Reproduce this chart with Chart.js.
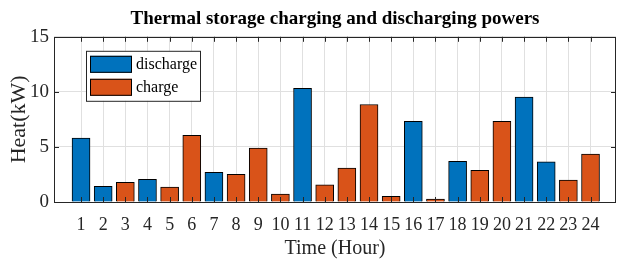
<!DOCTYPE html>
<html>
<head>
<meta charset="utf-8">
<script src="https://cdn.jsdelivr.net/npm/chart.js@4/dist/chart.umd.min.js"></script>
<style>
html,body{margin:0;padding:0;background:#fff;}
#wrap{width:617px;height:260px;}
</style>
</head>
<body>
<div id="wrap"><canvas id="c" width="617" height="260"></canvas></div>
<script>
const hours = [1,2,3,4,5,6,7,8,9,10,11,12,13,14,15,16,17,18,19,20,21,22,23,24];
const discharge = [5.8,1.43,null,2.05,null,null,2.7,null,null,null,10.33,null,null,null,null,7.33,null,3.7,null,null,9.52,3.64,null,null];
const charge = [null,null,1.78,null,1.35,6.05,null,2.52,4.9,0.73,null,1.55,3.09,8.85,0.52,null,0.27,null,2.88,7.33,null,null,2.0,4.36];
const yTicks = [0,5,10,15];
const seriesNames = ['discharge','charge'];

const BLUE = '#0072BD', ORANGE = '#D95319', AXC = '#262626';
const serif = '"Liberation Serif", "Times New Roman", serif';

const framePlugin = {
  id: 'frame',
  afterLayout(chart) {
    const tb = chart.titleBlock, a = chart.chartArea;
    if (tb) { tb.left = a.left; tb.right = a.right; tb.width = a.right - a.left; }
  },
  afterDraw(chart) {
    const {ctx, chartArea: a, scales} = chart;
    ctx.save();
    ctx.strokeStyle = AXC;
    ctx.lineWidth = 1;
    // inward ticks
    ctx.beginPath();
    hours.forEach(h => {
      const px = Math.round(scales.x.getPixelForValue(h)) + 0.5;
      ctx.moveTo(px, a.bottom); ctx.lineTo(px, a.bottom - 5);
      ctx.moveTo(px, a.top); ctx.lineTo(px, a.top + 5);
    });
    yTicks.forEach(v => {
      const py = Math.round(scales.y.getPixelForValue(v)) + 0.5;
      ctx.moveTo(a.left, py); ctx.lineTo(a.left + 5, py);
      ctx.moveTo(a.right, py); ctx.lineTo(a.right - 5, py);
    });
    ctx.stroke();
    ctx.strokeRect(Math.round(a.left) + 0.5, Math.round(a.top) + 0.5, Math.round(a.right - a.left) - 1, Math.round(a.bottom - a.top));
    // legend
    const lx = a.left + 32, ly = a.top + 14;
    ctx.fillStyle = '#fff';
    ctx.fillRect(lx, ly, 114, 50);
    ctx.strokeStyle = AXC;
    ctx.strokeRect(lx + 0.5, ly + 0.5, 114, 50);
    const cols = [BLUE, ORANGE];
    ctx.font = '16px ' + serif;
    ctx.textBaseline = 'middle';
    seriesNames.forEach((n, i) => {
      const sy = ly + 5 + i * 23;
      ctx.fillStyle = cols[i];
      ctx.fillRect(lx + 4, sy, 42, 17);
      ctx.strokeStyle = '#000';
      ctx.strokeRect(lx + 4.5, sy + 0.5, 41, 16);
      ctx.fillStyle = '#000';
      ctx.fillText(n, lx + 50, sy + 8.5);
    });
    ctx.restore();
  }
};

new Chart(document.getElementById('c'), {
  type: 'bar',
  data: {
    datasets: [
      {label: seriesNames[0], data: hours.map((h,i)=>({x:h, y:discharge[i]})), backgroundColor: BLUE, borderColor: '#000', borderWidth: 1, barThickness: 18, grouped: false},
      {label: seriesNames[1], data: hours.map((h,i)=>({x:h, y:charge[i]})), backgroundColor: ORANGE, borderColor: '#000', borderWidth: 1, barThickness: 18, grouped: false}
    ]
  },
  options: {
    responsive: false,
    animation: false,
    devicePixelRatio: 1,
    layout: {padding: {left: 0, right: 1, top: 0, bottom: 0}},
    plugins: {
      legend: {display: false},
      tooltip: {enabled: false},
      title: {display: true, text: 'Thermal storage charging and discharging powers', color: '#000',
        font: {family: serif, size: 19, weight: 'bold'}, padding: {top: 8, bottom: 6}}
    },
    scales: {
      x: {
        type: 'linear', min: -0.22, max: 25.15, offset: false,
        afterBuildTicks(scale){ scale.ticks = hours.map(v=>({value:v})); },
        afterFit(scale){ scale.height = 58; },
        grid: {color: '#e0e0e0', drawTicks: false, offset: false},
        border: {display: false},
        ticks: {color: AXC, font: {family: serif, size: 18}, padding: 12, maxRotation: 0, autoSkip: false, callback: v => String(v)},
        title: {display: true, text: 'Time (Hour)', color: AXC, font: {family: serif, size: 20, lineHeight: 1.1}, padding: {top: 0, bottom: 0}}
      },
      y: {
        min: 0, max: 15,
        afterBuildTicks(scale){ scale.ticks = yTicks.map(v=>({value:v})); },
        afterFit(scale){ scale.width = 54; },
        grid: {color: '#e0e0e0', drawTicks: false},
        border: {display: false},
        ticks: {color: AXC, font: {family: serif, size: 19}, padding: 5},
        title: {display: true, text: 'Heat(kW)', color: AXC, font: {family: serif, size: 22}, padding: {top: 6, bottom: 0}}
      }
    }
  },
  plugins: [framePlugin]
});
</script>
</body>
</html>
